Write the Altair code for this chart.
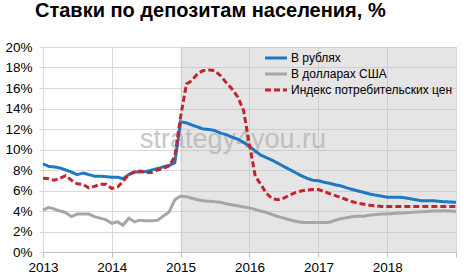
import altair as alt
import pandas as pd

series_names = ["В рублях", "В долларах США", "Индекс потребительских цен"]
series_colors = ["#1f78c1", "#a6a6a6", "#c0262c"]

# monthly observations, Jan 2013 .. Jan 2019
rub = [8.6, 8.35, 8.3, 8.2, 8.0, 7.8, 7.55, 7.7, 7.55, 7.4, 7.4, 7.35,
       7.3, 7.3, 7.15, 7.55, 7.8, 7.8, 7.85, 8.0, 8.15, 8.3, 8.45, 8.7,
       12.7, 12.6, 12.4, 12.2, 12.0, 11.95, 11.85, 11.6, 11.45, 11.2, 11.0, 10.7,
       10.3, 9.85, 9.45, 9.2, 8.95, 8.65, 8.35, 8.05, 7.75, 7.45, 7.2, 7.0,
       6.95, 6.8, 6.7, 6.55, 6.45, 6.25, 6.1, 5.95, 5.8, 5.65, 5.55, 5.45,
       5.35, 5.35, 5.35, 5.3, 5.2, 5.1, 5.0, 5.0, 5.0, 4.95, 4.9, 4.88,
       4.85]
usd = [4.1, 4.35, 4.2, 4.0, 3.85, 3.45, 3.7, 3.7, 3.7, 3.45, 3.3, 3.15,
       2.8, 2.95, 2.6, 3.3, 2.95, 3.1, 3.05, 3.05, 3.1, 3.5, 3.9, 5.1,
       5.45, 5.4, 5.25, 5.1, 5.0, 4.95, 4.9, 4.85, 4.7, 4.6, 4.5, 4.4,
       4.3, 4.15, 4.0, 3.85, 3.65, 3.45, 3.3, 3.15, 3.0, 2.9, 2.87, 2.87,
       2.87, 2.87, 2.9, 3.1, 3.25, 3.35, 3.45, 3.5, 3.5, 3.6, 3.65, 3.7,
       3.72, 3.75, 3.8, 3.82, 3.85, 3.9, 3.92, 3.95, 4.0, 4.0, 4.02, 4.0,
       3.95]
cpi = [7.2, 7.15, 7.0, 7.2, 7.45, 7.0, 6.65, 6.6, 6.25, 6.4, 6.6, 6.6,
       6.2, 6.35, 6.9, 7.55, 7.8, 7.9, 7.75, 7.75, 8.0, 8.15, 8.4, 9.3,
       13.2, 16.4, 16.7, 17.4, 17.7, 17.75, 17.7, 17.2, 16.5, 15.9, 15.1, 13.8,
       10.5, 7.4, 6.6, 5.7, 5.2, 5.1, 5.25, 5.55, 5.8, 5.95, 6.05, 6.1,
       6.1, 5.9, 5.7, 5.5, 5.3, 5.1, 4.9, 4.75, 4.65, 4.55, 4.5, 4.45,
       4.45, 4.45, 4.45, 4.45, 4.45, 4.45, 4.45, 4.45, 4.45, 4.45, 4.45, 4.45,
       4.45]

y_ticks = [0, 2, 4, 6, 8, 10, 12, 14, 16, 18, 20]
year_ticks = [2013, 2014, 2015, 2016, 2017, 2018, 2019]

dates = [d.strftime("%Y-%m-%dT00:00:00") for d in pd.date_range("2013-01-01", "2019-01-01", freq="MS")]

rows = []
for name, vals in zip(series_names, [rub, usd, cpi]):
    for d, v in zip(dates, vals):
        rows.append({"date": d, "value": v, "series": name})
df = pd.DataFrame(rows)

shade = pd.DataFrame([{"start": "2015-01-01T00:00:00", "end": "2019-01-01T00:00:00", "y0": 0, "y1": 20}])

FONT = "Liberation Sans"
x_dom = [alt.DateTime(year=2013, month=1, date=1), alt.DateTime(year=2019, month=1, date=1)]
x_vals = [alt.DateTime(year=y, month=1, date=1) for y in year_ticks]

x_axis = alt.Axis(values=x_vals,
                  labelExpr="year(datum.value) == 2019 ? '' : timeFormat(datum.value, '%Y')",
                  grid=True, gridColor="#d9d9d9", domainColor="#bfbfbf",
                  tickColor="#bfbfbf", tickSize=5, labelPadding=3,
                  labelFontSize=13.5, labelColor="#000000", labelFont=FONT,
                  labelAngle=0, labelFlush=False, labelOverlap=False)
y_axis = alt.Axis(values=y_ticks, labelExpr="datum.value + '%'",
                  grid=True, gridColor="#d9d9d9", domain=False,
                  tickColor="#d9d9d9", tickSize=4, labelPadding=7,
                  labelFontSize=13.5, labelColor="#000000", labelFont=FONT,
                  labelOverlap=False, tickCount=11)
x_scale = alt.Scale(domain=x_dom)
y_scale = alt.Scale(domain=[0, 20], nice=False)

x_enc = alt.X("date:T", title=None, scale=x_scale, axis=x_axis)
y_enc = alt.Y("value:Q", title=None, scale=y_scale, axis=y_axis)

legend = alt.Legend(title=None, orient="none", legendX=226, legendY=4,
                    symbolType="M-2,0L2,0", symbolSize=121, symbolStrokeWidth=3,
                    labelFontSize=12, labelFont=FONT, labelColor="#000000",
                    labelOffset=8, rowPadding=3, padding=0, labelLimit=300)

color = alt.Color("series:N", scale=alt.Scale(domain=series_names, range=series_colors), legend=legend)
dash = alt.StrokeDash("series:N", scale=alt.Scale(domain=series_names, range=[[1, 0], [1, 0], [6, 3]]), legend=legend)

shade_layer = alt.Chart(shade).mark_rect(color="#bfbfbf", opacity=0.4).encode(
    x=alt.X("start:T", title=None, scale=x_scale, axis=x_axis), x2="end:T",
    y=alt.Y("y0:Q", title=None, scale=y_scale, axis=y_axis), y2="y1:Q")

watermark = alt.Chart(pd.DataFrame([{"t": "strategy4you.ru"}])).mark_text(
    font=FONT, fontSize=27, color="#b0b0b0", opacity=0.7).encode(
    x=alt.value(190), y=alt.value(93), text="t:N")

def line_layer(name):
    return alt.Chart(df).transform_filter(alt.datum.series == name).mark_line(
        strokeWidth=3).encode(x=x_enc, y=y_enc, color=color, strokeDash=dash)

chart = alt.layer(
    shade_layer,
    watermark,
    line_layer(series_names[1]),
    line_layer(series_names[0]),
    line_layer(series_names[2]),
).properties(
    width=413, height=205,
    padding={"left": 43, "top": 47, "right": 8, "bottom": 25},
    autosize=alt.AutoSizeParams(type="none"),
    title=alt.TitleParams("Ставки по депозитам населения, %", anchor="start", frame="group",
                          dx=-8, offset=19, fontSize=20, fontWeight="bold", font=FONT,
                          color="#000000"),
).configure_view(stroke=None).configure(background="#ffffff")

chart.save("out.html", embed_options={"renderer": "svg", "actions": False})
